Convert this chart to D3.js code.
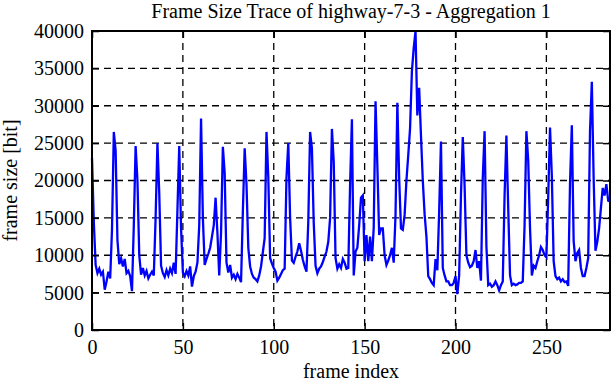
<!DOCTYPE html>
<html>
<head>
<meta charset="utf-8">
<script src="https://cdn.jsdelivr.net/npm/d3@7"></script>
<style>
  body { margin: 0; background: #fff; }
  svg text { font-family: "Liberation Serif", "Times New Roman", serif; fill: #000; }
</style>
</head>
<body>
<div id="chart"></div>
<script>
// frame sizes in bit, one value per frame (index 0..285)
var frameSize = [
  23000, 14400, 8700, 7600, 8200, 7400, 7800, 5400, 6500, 7800, 6900, 13400,
  26500, 24000, 12000, 8800, 9600, 8500, 9500, 7600, 7900, 7200, 5200, 14000,
  24600, 20000, 10000, 7400, 8300, 7300, 7900, 6900, 7400, 7800, 7300, 15000,
  25000, 18300, 8600, 7600, 7100, 8000, 7300, 8200, 7600, 9000, 7500, 16000,
  24600, 13600, 7700, 7200, 7900, 7300, 8500, 5800, 7200, 7800, 9000, 14000,
  28300, 15000, 8700, 9500, 10200, 11000, 12500, 14000, 17700, 13000, 7300, 13000,
  24500, 21000, 9000, 7700, 8700, 7000, 7400, 6800, 7500, 7000, 6400, 15800,
  24300, 19500, 11000, 8500, 7500, 7000, 6800, 6500, 7300, 8500, 10400, 12300,
  26500, 20400, 9600, 8900, 8300, 7800, 6600, 7000, 7500, 8000, 8200, 20400,
  25000, 15000, 9300, 9000, 9800, 10500, 11600, 10600, 9400, 8500, 7800, 14500,
  26500, 24300, 14300, 8600, 7600, 8200, 8500, 9100, 9800, 10500, 11800, 15000,
  26900, 22500, 9600, 8200, 8800, 8300, 9500, 9000, 8200, 8300, 19400, 28200,
  7300, 10500, 11000, 14000, 17700, 18000, 9200, 12700, 9200, 12500, 9200, 13700,
  30600, 22000, 12700, 13600, 13600, 10000, 8700, 9300, 10000, 11000, 9000, 15400,
  30400, 20300, 13600, 13400, 15400, 20000, 23400, 27000, 34600, 37700, 40000, 28700,
  32400, 26000, 20000, 15500, 12500, 7200, 6800, 6300, 6000, 9500, 8000, 15800,
  25200, 8300, 7300, 6500, 6500, 6000, 6000, 6300, 7200, 4800, 7300, 18000,
  25800, 19300, 10000, 9000, 8400, 8600, 9200, 10700, 8300, 9200, 6600, 20300,
  26600, 11200, 6000, 6200, 5800, 6000, 6500, 6000, 5300, 6000, 6500, 18000,
  26000, 16300, 7300, 6000, 6200, 6000, 6100, 6300, 6300, 6500, 14000, 26600,
  22700, 13600, 7300, 8600, 8300, 9200, 10000, 11100, 10700, 10000, 9700, 17700,
  27100, 20600, 9200, 7200, 6800, 7000, 6500, 6800, 6400, 6500, 5900, 19600,
  27400, 11900, 9200, 10300, 10700, 8300, 7200, 7200, 8300, 9600, 26600, 33200,
  20300, 10600, 11800, 13600, 16300, 19000, 18000, 19500, 17300, 17200
];

var xTicks = [0, 50, 100, 150, 200, 250];
var yTicks = [0, 5000, 10000, 15000, 20000, 25000, 30000, 35000, 40000];

var titleText = "Frame Size Trace of highway-7-3 - Aggregation 1";
var xLabel = "frame index";
var yLabel = "frame size [bit]";

var chart = (function() {

    var W = 612, H = 382;
    var left = 92, right = 610, top = 31, bottom = 330;

    function draw(svg) {

        var x = d3.scaleLinear().domain([0, 285]).range([left, right]);
        var y = d3.scaleLinear().domain([0, 40000]).range([bottom, top]);

        // dashed grid, skipping the lines that sit on the frame
        svg.append("g").selectAll("line")
            .data(yTicks.filter(function(d) { return d > 0 && d < 40000; }))
            .enter().append("line")
            .attr("x1", left).attr("x2", right)
            .attr("y1", function(d) { return y(d); })
            .attr("y2", function(d) { return y(d); })
            .attr("stroke", "#000").attr("stroke-width", 1.3)
            .attr("stroke-dasharray", "7,5");

        svg.append("g").selectAll("line")
            .data(xTicks.filter(function(d) { return d > 0; }))
            .enter().append("line")
            .attr("y1", top).attr("y2", bottom)
            .attr("x1", function(d) { return x(d); })
            .attr("x2", function(d) { return x(d); })
            .attr("stroke", "#000").attr("stroke-width", 1.3)
            .attr("stroke-dasharray", "7,5");

        // the trace
        var line = d3.line()
            .x(function(d, i) { return x(i); })
            .y(function(d) { return y(d); });

        svg.append("path")
            .datum(frameSize)
            .attr("d", line)
            .attr("fill", "none")
            .attr("stroke", "#0000ff")
            .attr("stroke-width", 2.3)
            .attr("stroke-linejoin", "miter");

        // axes: ticks point inward, mirrored on top and right
        var tick = 7;
        var fmt = d3.format("d");
        svg.append("g").attr("transform", "translate(" + left + ",0)")
            .call(d3.axisLeft(y).tickValues(yTicks).tickSize(-tick).tickPadding(8).tickFormat(fmt));
        svg.append("g").attr("transform", "translate(0," + bottom + ")")
            .call(d3.axisBottom(x).tickValues(xTicks).tickSize(-tick).tickPadding(10).tickFormat(fmt));
        svg.append("g").attr("transform", "translate(" + right + ",0)")
            .call(d3.axisRight(y).tickValues(yTicks).tickSize(-tick).tickFormat(""));
        svg.append("g").attr("transform", "translate(0," + top + ")")
            .call(d3.axisTop(x).tickValues(xTicks).tickSize(-tick).tickFormat(""));

        svg.selectAll(".domain").remove();
        svg.selectAll(".tick line").attr("stroke", "#000").attr("stroke-width", 1.5);
        svg.selectAll(".tick text").style("font-size", "20px");

        // frame
        svg.append("rect")
            .attr("x", left).attr("y", top)
            .attr("width", right - left).attr("height", bottom - top)
            .attr("fill", "none").attr("stroke", "#000").attr("stroke-width", 2);

        svg.append("text")
            .attr("x", (left + right) / 2).attr("y", 18)
            .attr("text-anchor", "middle").style("font-size", "20px")
            .text(titleText);

        svg.append("text")
            .attr("x", (left + right) / 2).attr("y", 378)
            .attr("text-anchor", "middle").style("font-size", "20px")
            .text(xLabel);

        svg.append("text")
            .attr("transform", "translate(17," + ((top + bottom) / 2) + ") rotate(-90)")
            .attr("text-anchor", "middle").style("font-size", "20px")
            .text(yLabel);
    }

    return {
        render: function(placement) {
            d3.select(placement).html("");
            var svg = d3.select(placement).append("svg")
                .attr("width", W).attr("height", H);
            draw(svg);
        }
    };
})();

chart.render("#chart");
</script>
</body>
</html>
